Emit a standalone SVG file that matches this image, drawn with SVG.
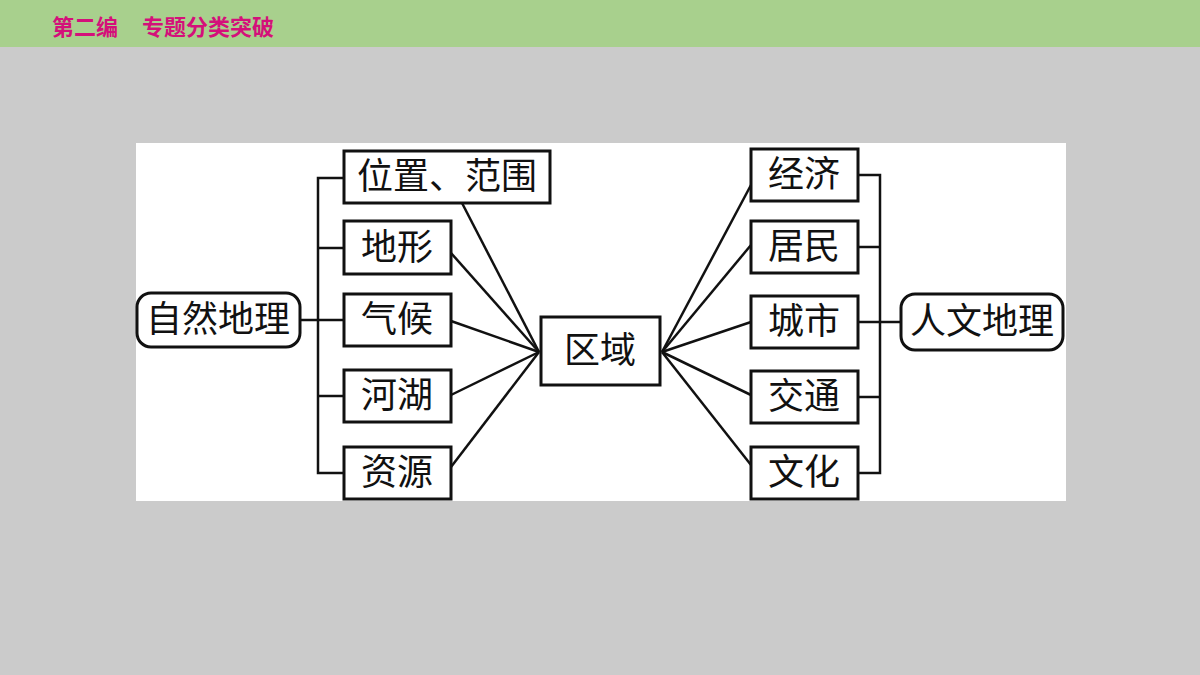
<svg xmlns="http://www.w3.org/2000/svg" width="1200" height="675" viewBox="0 0 1200 675">
<style>
.b{fill:#fff;stroke:#111;stroke-width:3}
.t{font-family:"Liberation Serif","Noto Sans CJK SC",serif;font-size:36px;fill:#111;text-anchor:middle;dominant-baseline:central}
.c line,.c polyline{stroke:#111;stroke-width:2.5;fill:none}
.h{font-family:"Noto Sans CJK SC",sans-serif;font-weight:bold;font-size:22px;fill:#d4107a}
</style>
<rect width="1200" height="675" fill="#cbcbcb"/>
<rect width="1200" height="47" fill="#a8d08d"/>
<text class="h" x="52" y="35">第二编</text>
<text class="h" x="142" y="35">专题分类突破</text>
<rect x="136" y="143" width="930" height="358" fill="#fff"/>
<g class="c">
<polyline points="344,178 318,178 318,473 344,473"/>
<line x1="318" y1="248" x2="344" y2="248"/><line x1="300" y1="320" x2="344" y2="320"/><line x1="318" y1="396" x2="344" y2="396"/>
<polyline points="858,175 880,175 880,473 858,473"/>
<line x1="880" y1="247" x2="858" y2="247"/><line x1="858" y1="322" x2="901" y2="322"/><line x1="880" y1="397" x2="858" y2="397"/>
<line x1="462" y1="203" x2="539" y2="352"/><line x1="451" y1="253" x2="539" y2="352"/><line x1="451" y1="321" x2="539" y2="352"/><line x1="451" y1="395" x2="539" y2="352"/><line x1="451" y1="467" x2="539" y2="352"/>
<line x1="751" y1="185" x2="662" y2="352"/><line x1="751" y1="245" x2="662" y2="352"/><line x1="751" y1="322" x2="662" y2="352"/><line x1="751" y1="395" x2="662" y2="352"/><line x1="751" y1="465" x2="662" y2="352"/>
</g>
<g id="n-zr"><rect class="b" x="137" y="293" width="163" height="54" rx="14"/><text class="t" x="218" y="320">自然地理</text></g>
<g id="n-wz"><rect class="b" x="344" y="151" width="206" height="52"/><text class="t" x="447" y="177">位置、范围</text></g>
<g id="n-dx"><rect class="b" x="344" y="221" width="107" height="53"/><text class="t" x="397" y="248">地形</text></g>
<g id="n-qh"><rect class="b" x="344" y="294" width="107" height="52"/><text class="t" x="397" y="320">气候</text></g>
<g id="n-hh"><rect class="b" x="344" y="370" width="107" height="52"/><text class="t" x="397" y="396">河湖</text></g>
<g id="n-zy"><rect class="b" x="344" y="447" width="107" height="52"/><text class="t" x="397" y="473">资源</text></g>
<g id="n-qy"><rect class="b" x="541" y="317" width="119" height="68"/><text class="t" x="600" y="351">区域</text></g>
<g id="n-jj"><rect class="b" x="751" y="149" width="107" height="52"/><text class="t" x="804" y="175">经济</text></g>
<g id="n-jm"><rect class="b" x="751" y="221" width="107" height="52"/><text class="t" x="804" y="247">居民</text></g>
<g id="n-cs"><rect class="b" x="751" y="296" width="107" height="52"/><text class="t" x="804" y="322">城市</text></g>
<g id="n-jt"><rect class="b" x="751" y="371" width="107" height="52"/><text class="t" x="804" y="397">交通</text></g>
<g id="n-wh"><rect class="b" x="751" y="447" width="107" height="52"/><text class="t" x="804" y="473">文化</text></g>
<g id="n-rw"><rect class="b" x="901" y="294" width="162" height="56" rx="14"/><text class="t" x="982" y="322">人文地理</text></g>
</svg>
